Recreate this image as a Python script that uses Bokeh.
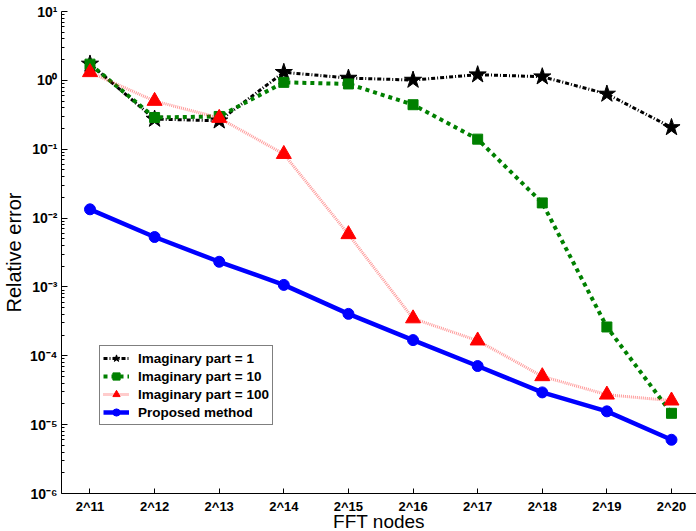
import numpy as np
from bokeh.plotting import figure
from bokeh.models import Range1d, FixedTicker, CustomJSTickFormatter, Legend, LegendItem
from bokeh.embed import file_html
from bokeh.resources import INLINE

# ---- data ----
exponents = [11, 12, 13, 14, 15, 16, 17, 18, 19, 20]
tick_labels = ["2^11", "2^12", "2^13", "2^14", "2^15", "2^16", "2^17", "2^18", "2^19", "2^20"]
imag1 = [1.73, 0.274, 0.259, 1.31, 1.08, 1.01, 1.21, 1.13, 0.634, 0.207]
imag10 = [1.72, 0.289, 0.299, 0.935, 0.887, 0.443, 0.140, 0.0166, 2.62e-4, 1.46e-5]
imag100 = [1.31, 0.501, 0.284, 0.0849, 5.81e-3, 3.48e-4, 1.66e-4, 5.03e-5, 2.72e-5, 2.23e-5]
proposed = [0.0134, 5.31e-3, 2.32e-3, 1.07e-3, 4.06e-4, 1.69e-4, 7.10e-5, 2.94e-5, 1.56e-5, 6.03e-6]
labels = ["Imaginary part = 1", "Imaginary part = 10", "Imaginary part = 100", "Proposed method"]

FONT = "Liberation Sans"

p = figure(frame_width=635, frame_height=482, output_backend="svg", toolbar_location=None,
           y_axis_type="log",
           x_range=Range1d(10.559, 20.387), y_range=Range1d(1e-6, 10),
           min_border_left=61, min_border_right=0, min_border_top=11, min_border_bottom=38)
p.grid.visible = False
p.outline_line_color = None
p.background_fill_color = "white"
p.border_fill_color = "white"

# x axis
xa = p.xaxis[0]
xa.ticker = FixedTicker(ticks=exponents)
xa.major_label_overrides = {e: t for e, t in zip(exponents, tick_labels)}
xa.major_tick_in = 5
xa.major_tick_out = 0
xa.minor_tick_line_color = None
xa.axis_line_color = "black"
xa.major_tick_line_color = "black"
xa.major_label_text_color = "black"
xa.major_label_text_font = FONT
xa.major_label_text_font_style = "bold"
xa.major_label_text_font_size = "13px"
xa.major_label_standoff = 5
xa.axis_label = "FFT nodes"
xa.axis_label_text_color = "black"
xa.axis_label_text_font = FONT
xa.axis_label_text_font_style = "normal"
xa.axis_label_text_font_size = "19px"
xa.axis_label_standoff = -6

# y axis
majors = [10.0 ** k for k in range(-6, 2)]
minors = [m * 10.0 ** k for k in range(-6, 1) for m in range(2, 10)]
ya = p.yaxis[0]
ya.ticker = FixedTicker(ticks=majors, minor_ticks=minors)
ya.formatter = CustomJSTickFormatter(code="""
const e = Math.round(Math.log10(tick));
const sup = {'-':'\u207b','0':'\u2070','1':'\u00b9','2':'\u00b2','3':'\u00b3','4':'\u2074',
             '5':'\u2075','6':'\u2076','7':'\u2077','8':'\u2078','9':'\u2079'};
return '10' + String(e).split('').map(c => sup[c]).join('');
""")
ya.major_tick_in = 6
ya.major_tick_out = 0
ya.minor_tick_in = 3
ya.minor_tick_out = 0
ya.axis_line_color = "black"
ya.major_tick_line_color = "black"
ya.minor_tick_line_color = "black"
ya.major_label_text_color = "black"
ya.major_label_text_font = FONT
ya.major_label_text_font_style = "bold"
ya.major_label_text_font_size = "14px"
ya.major_label_standoff = 4
ya.axis_label = "Relative error"
ya.axis_label_text_color = "black"
ya.axis_label_text_font = FONT
ya.axis_label_text_font_style = "normal"
ya.axis_label_text_font_size = "20px"
ya.axis_label_standoff = 2

# series
r1l = p.line(exponents, imag1, line_color="black", line_width=3, line_dash="4 2 1 2")
r1m = p.scatter(exponents, imag1, marker="star", size=18, fill_color="black", line_color="black")
r2l = p.line(exponents, imag10, line_color="#008000", line_width=4, line_dash="4 4")
r2m = p.scatter(exponents, imag10, marker="square", size=10, fill_color="#008000", line_color="#008000")
r3l = p.line(exponents, imag100, line_color="#ff0000", line_alpha=0.4, line_width=3, line_dash="1 1")
r3m = p.scatter(exponents, imag100, marker="triangle", size=15, fill_color="#ff0000", line_color="#ff0000")
r4l = p.line(exponents, proposed, line_color="#0000ff", line_width=4.5)
r4m = p.scatter(exponents, proposed, marker="circle", size=11, fill_color="#0000ff", line_color="#0000ff")

legend = Legend(items=[
    LegendItem(label=labels[0], renderers=[r1l, r1m]),
    LegendItem(label=labels[1], renderers=[r2l, r2m]),
    LegendItem(label=labels[2], renderers=[r3l, r3m]),
    LegendItem(label=labels[3], renderers=[r4l, r4m]),
], location=(38, 68))
legend.border_line_color = "black"
legend.border_line_width = 1
legend.background_fill_color = "white"
legend.background_fill_alpha = 1
legend.label_text_font = FONT
legend.label_text_font_style = "bold"
legend.label_text_font_size = "13.5px"
legend.label_text_color = "black"
legend.label_height = 18
legend.glyph_height = 18
legend.glyph_width = 26
legend.label_standoff = 9
legend.spacing = 0
legend.padding = 3
legend.margin = 0
p.add_layout(legend)

open("out.html", "w").write(file_html(p, INLINE))
